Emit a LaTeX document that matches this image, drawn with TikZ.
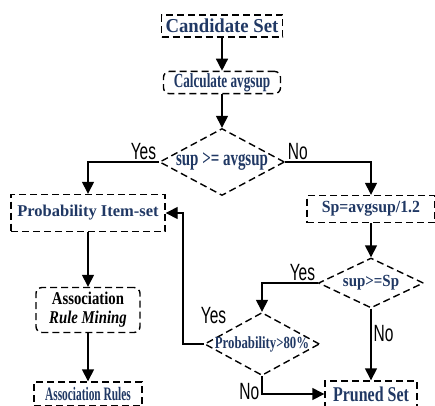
\documentclass[tikz,border=0pt]{standalone}
\usepackage{fontspec}
\setmainfont{Liberation Serif}
\newfontfamily\boxfont{Liberation Serif}
\newfontfamily\ynfont[FakeStretch=0.66]{Liberation Sans}
\usetikzlibrary{shapes.geometric,positioning,arrows.meta}
\definecolor{navytext}{RGB}{32,56,100}
% size, horizontal stretch
\newcommand{\bsize}[2]{\boxfont\bfseries\addfontfeature{FakeStretch=#2}\fontsize{#1}{#1}\selectfont}
\tikzset{
  box/.style={draw, dash pattern=on 7pt off 4pt, text=navytext, inner sep=2pt,
    font=\bsize{18}{0.8}},
  test/.style={box, shape=diamond, inner sep=-4pt},
  yn/.style={font=\ynfont\fontsize{23.5}{23.5}\selectfont, inner sep=2pt}
}

\begin{document}
\begin{tikzpicture}[x=1pt, y=-1pt, line width=1.4pt,
    >={Triangle[length=12pt,width=12pt]}]
          \useasboundingbox (0,0) rectangle (435,405);
          \node[box, minimum width=121pt, minimum height=22pt, font=\bsize{19.7}{0.95}] (cand) at (222,26) {Candidate Set};
          \node[box, rounded corners=6pt, minimum width=117pt, minimum height=22pt, font=\bsize{20}{0.66}, below=33pt of cand] (calc) {Calculate avgsup};
          \node[test, aspect=1.87, minimum width=125pt, minimum height=67pt, font=\bsize{22}{0.68}] (supavg) at (222,162) {sup >= avgsup};
          \node[box, minimum width=154pt, minimum height=37pt, font=\bsize{16.5}{1}] (pis) at (88,213) {Probability Item-set};
          \node[box, minimum width=128pt, minimum height=27pt, font=\bsize{17}{0.93}] (sp) at (371,209) {Sp=avgsup/1.2};
          \node[test, aspect=2.1, minimum width=105pt, minimum height=50pt, font=\bsize{17}{0.88}] (supsp) at (371,283) {sup>=Sp};
          \node[test, aspect=1.83, minimum width=115pt, minimum height=63pt, font=\bsize{17}{0.75}] (prob) at (262,344) {Probability>80\%};
          \node[box, minimum width=92pt, minimum height=26pt, font=\bsize{21}{0.76}] (pruned) at (371,394) {Pruned Set};
          \node[box, rounded corners=6pt, minimum width=104pt, minimum height=45pt, text=black, align=center, font=\boxfont\bfseries\addfontfeature{FakeStretch=0.82}\fontsize{18}{19}\selectfont] (arm) at (88,310) {Association\\ \textit{Rule Mining}};
          \node[box, minimum width=108pt, minimum height=24pt, font=\bsize{19}{0.6}] (ar) at (88,394) {Association Rules};
          \path [->] (cand) edge (calc);
          \path [->] (calc) edge (supavg);
          \draw [->] (supavg.west) node[yn, above left] {Yes} -| (pis.north);
          \draw [->] (supavg.east) node[yn, above right] {No} -| (sp.north);
          \path [->] (sp) edge (supsp);
          \draw [->] (supsp.west) node[yn, above left] {Yes} -| (prob.north);
          \path [->] (supsp) edge node[yn, right, pos=0.35] {No} (pruned);
          \draw [->] (prob.south) |- node[yn, left, pos=0.5, yshift=2pt] {No} (pruned.west);
          \draw [->] (prob.west) -- ++(-21,0) |- (pis.east);
          \node[yn, above left=1pt and 4pt of prob.north west] {Yes};
          \path [->] (pis) edge (arm);
          \path [->] (arm) edge (ar);
        \end{tikzpicture}
\end{document}
